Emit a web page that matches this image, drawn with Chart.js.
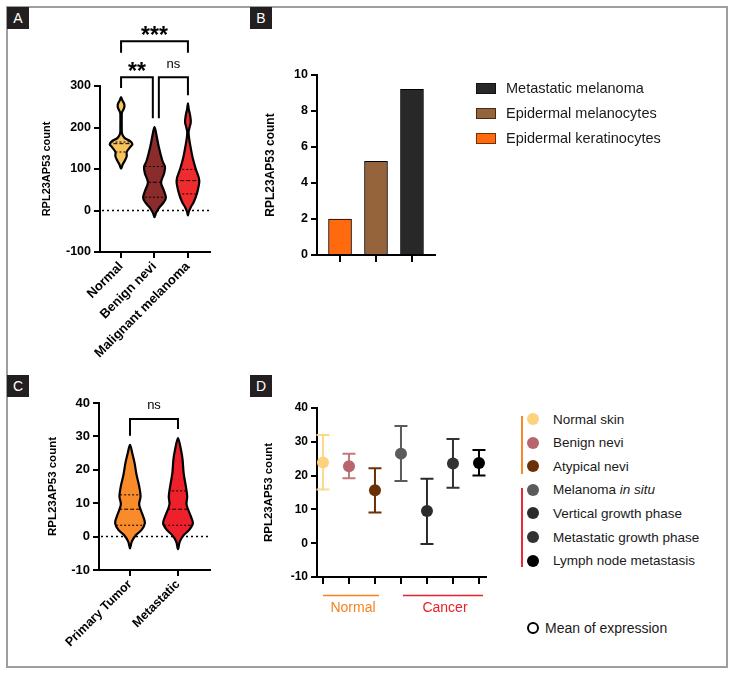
<!DOCTYPE html>
<html>
<head>
<meta charset="utf-8">
<script src="https://cdn.jsdelivr.net/npm/chart.js@4.4.1/dist/chart.umd.min.js"></script>
<style>
  body { margin: 0; background: #fff; font-family: "Liberation Sans", Arial, sans-serif; }
  #page { position: relative; width: 735px; height: 675px; overflow: hidden; }
  #frame { position: absolute; left: 6px; top: 6px; width: 718px; height: 658px; border: 2px solid #9e9e9e; }
  canvas { position: absolute; }
  .tag { position: absolute; width: 22px; height: 22px; background: #231f20; color: #fff; font-size: 14px; line-height: 22px; text-align: center; z-index: 3; }
  .row { position: absolute; height: 20px; display: flex; align-items: center; white-space: nowrap; color: #1a1a1a; z-index: 3; }
  .box { width: 20px; height: 11px; margin-right: 10px; box-sizing: border-box; border: 1px solid rgba(0,0,0,0.55); }
  .dot { width: 12px; height: 12px; border-radius: 50%; margin-right: 14px; box-sizing: border-box; }
  .vline { position: absolute; width: 2px; z-index: 3; }
</style>
</head>
<body>
<div id="page">
  <div id="frame"></div>
  <canvas id="chartA" width="245" height="370" style="left:0;top:0"></canvas>
  <canvas id="chartB" width="240" height="300" style="left:245px;top:0"></canvas>
  <canvas id="chartC" width="245" height="330" style="left:0;top:340px"></canvas>
  <canvas id="chartD" width="260" height="300" style="left:245px;top:340px"></canvas>
  <div class="tag" style="left:7px;top:7px">A</div>
  <div class="tag" style="left:250px;top:7px">B</div>
  <div class="tag" style="left:7px;top:375px">C</div>
  <div class="tag" style="left:250px;top:375px">D</div>
  <div id="legendB"></div>
  <div id="legendD"></div>
</div>
<script>
// ---- Panel A: violin plots (value, relative width)
const groupsA = ['Normal', 'Benign nevi', 'Malignant melanoma'];
const colorsA = ['#f7c35c', '#8c2b2c', '#ef2b2e'];
const violinNormal = [[273, 0], [265, 0.12], [258, 0.26], [251, 0.3], [244, 0.22], [236, 0.08], [225, 0.06], [205, 0.06], [186, 0.08], [175, 0.3], [167, 0.8], [160, 1], [152, 0.78], [141, 0.5], [131, 0.5], [121, 0.35], [111, 0.14], [101, 0]];
const violinBenign = [[201, 0], [185, 0.15], [153, 0.38], [121, 0.68], [105, 0.92], [90, 0.85], [68, 0.58], [50, 0.8], [32, 1], [20, 0.82], [8, 0.45], [-5, 0.15], [-16, 0]];
const violinMalignant = [[258, 0], [245, 0.07], [228, 0.2], [213, 0.25], [200, 0.14], [189, 0.06], [175, 0.1], [161, 0.18], [129, 0.4], [99, 0.7], [72, 1], [40, 0.78], [20, 0.5], [8, 0.25], [-3, 0.08], [-12, 0]];
const quartilesA = [[141, 161, 165], [32, 68, 106], [40, 72, 99]];

// ---- Panel B: bar chart
const cellTypes = ['Epidermal keratinocytes', 'Epidermal melanocytes', 'Metastatic melanoma'];
const countsB = [2, 5.2, 9.2];
const colorsB = ['#ff6a0f', '#95643a', '#282828'];

// ---- Panel C: violin plots
const groupsC = ['Primary Tumor', 'Metastatic'];
const colorsC = ['#f98b2b', '#ee202b'];
const violinPrimary = [[27.5, 0], [25, 0.15], [22, 0.31], [18.5, 0.44], [15, 0.62], [12, 0.71], [9.5, 0.62], [6, 0.89], [4, 1], [2, 0.78], [0.5, 0.4], [-1.5, 0.12], [-3.5, 0]];
const violinMetastatic = [[29.5, 0], [26, 0.2], [23, 0.31], [19, 0.38], [15, 0.53], [12, 0.62], [9.5, 0.58], [6, 0.87], [4, 1], [2, 0.75], [0.5, 0.4], [-1.5, 0.12], [-3.8, 0]];
const quartilesC = [[3.4, 8.2, 12.5], [3.4, 8.2, 13.7]];

// ---- Panel D: mean with error bars
const stagesD = ['Normal skin', 'Benign nevi', 'Atypical nevi', 'Melanoma in situ', 'Vertical growth phase', 'Metastatic growth phase', 'Lymph node metastasis'];
const meansD = [23.9, 22.8, 15.7, 26.5, 9.5, 23.6, 23.7];
const lowerD = [15.9, 19.2, 9.1, 18.4, -0.2, 16.4, 20.0];
const upperD = [32.0, 26.5, 22.2, 34.7, 19.1, 30.8, 27.6];
const colorsD = ['#fdd27e', '#b8666b', '#6b3006', '#5b5b5b', '#2b2b2b', '#323232', '#000000'];
const barColorsD = ['#fdd98c', '#c07a7c', '#6b3006', '#5b5b5b', '#2b2b2b', '#323232', '#000000'];
const stageGroups = [
  { label: 'Normal', from: 1, to: 3, color: '#f5821f' },
  { label: 'Cancer', from: 4, to: 7, color: '#e8202a' }
];

Chart.defaults.font.family = '"Liberation Sans", Arial, sans-serif';
Chart.defaults.color = '#000';

const tickGrid = len => ({ display: true, drawOnChartArea: false, drawTicks: true, tickLength: len, color: '#000', lineWidth: 2, offset: false });
const axisBorder = { display: true, color: '#000', width: 2 };

function yAxis(min, max, step, width, titlePad, fontSize, titleSize) {
  return {
    type: 'linear', min: min, max: max,
    ticks: { stepSize: step, font: { size: fontSize, weight: 'bold' }, color: '#000', padding: 3 },
    grid: tickGrid(6),
    border: axisBorder,
    title: { display: true, text: 'RPL23AP53 count', color: '#000', font: { size: titleSize, weight: 'bold' }, padding: { top: titlePad, bottom: 0 } },
    afterFit: s => { s.width = width; }
  };
}

function xAxis(labels, min, max, height, fontSize, rotate, tickLen, showLabels) {
  return {
    type: 'linear', min: min, max: max, offset: false,
    afterBuildTicks: s => { s.ticks = labels.map((_, i) => ({ value: i + 1 })); },
    ticks: {
      autoSkip: false, minRotation: rotate, maxRotation: rotate, padding: 1,
      font: { size: fontSize, weight: 'bold' }, color: '#000',
      callback: v => showLabels ? labels[v - 1] : ''
    },
    grid: tickGrid(tickLen),
    border: axisBorder,
    afterFit: s => { s.height = height; }
  };
}

function smoothPath(pts) {
  const p = new Path2D();
  const n = pts.length;
  p.moveTo(pts[0][0], pts[0][1]);
  for (let i = 0; i < n; i++) {
    const p0 = pts[(i - 1 + n) % n], p1 = pts[i], p2 = pts[(i + 1) % n], p3 = pts[(i + 2) % n];
    p.bezierCurveTo(p1[0] + (p2[0] - p0[0]) / 6, p1[1] + (p2[1] - p0[1]) / 6,
                    p2[0] - (p3[0] - p1[0]) / 6, p2[1] - (p3[1] - p1[1]) / 6, p2[0], p2[1]);
  }
  p.closePath();
  return p;
}

// draws the violins, the dotted zero line and the significance brackets
function violinPlugin(shapes, quartiles, colors, half, brackets) {
  return {
    id: 'violins',
    beforeDatasetsDraw(chart) {
      const { ctx, chartArea, scales: { x, y } } = chart;
      ctx.save();
      ctx.strokeStyle = '#000';
      ctx.lineWidth = 1.5;
      ctx.setLineDash([2, 3]);
      const y0 = y.getPixelForValue(0);
      ctx.beginPath();
      ctx.moveTo(chartArea.left + 2, y0);
      ctx.lineTo(chartArea.right, y0);
      ctx.stroke();
      ctx.restore();

      shapes.forEach((profile, i) => {
        const c = i + 1;
        const right = profile.map(([v, d]) => [x.getPixelForValue(c + d * half), y.getPixelForValue(v)]);
        const left = profile.slice(1, -1).reverse().map(([v, d]) => [x.getPixelForValue(c - d * half), y.getPixelForValue(v)]);
        const path = smoothPath(right.concat(left));
        ctx.save();
        ctx.fillStyle = colors[i];
        ctx.fill(path);
        ctx.save();
        ctx.clip(path);
        ctx.strokeStyle = '#000';
        ctx.lineWidth = 1;
        quartiles[i].forEach((q, k) => {
          ctx.setLineDash(k === 1 ? [4, 2] : [2, 2]);
          const yy = y.getPixelForValue(q);
          ctx.beginPath();
          ctx.moveTo(x.getPixelForValue(c - half * 1.2), yy);
          ctx.lineTo(x.getPixelForValue(c + half * 1.2), yy);
          ctx.stroke();
        });
        ctx.restore();
        ctx.lineWidth = 2.2;
        ctx.strokeStyle = '#000';
        ctx.lineJoin = 'round';
        ctx.stroke(path);
        ctx.restore();
      });
    },
    afterDraw(chart) {
      const { ctx, scales: { x, y } } = chart;
      ctx.save();
      ctx.strokeStyle = '#000';
      ctx.fillStyle = '#000';
      ctx.lineWidth = 2;
      ctx.lineJoin = 'miter';
      ctx.textAlign = 'center';
      ctx.textBaseline = 'alphabetic';
      brackets.forEach(b => {
        const x1 = x.getPixelForValue(b.from), x2 = x.getPixelForValue(b.to);
        const yt = y.getPixelForValue(b.top);
        ctx.beginPath();
        ctx.moveTo(x1, y.getPixelForValue(b.leftEnd));
        ctx.lineTo(x1, yt);
        ctx.lineTo(x2, yt);
        ctx.lineTo(x2, y.getPixelForValue(b.rightEnd));
        ctx.stroke();
        ctx.font = b.font;
        ctx.fillText(b.label, (x1 + x2) / 2, y.getPixelForValue(b.textAt));
      });
      ctx.restore();
    }
  };
}

const baseOptions = (padding, scales) => ({
  responsive: false,
  animation: false,
  events: [],
  layout: { padding: padding, autoPadding: false },
  plugins: { legend: { display: false }, tooltip: { enabled: false } },
  scales: scales
});

// ---- A
new Chart(document.getElementById('chartA'), {
  type: 'scatter',
  data: { datasets: [{ data: [] }] },
  options: baseOptions({ left: 30, right: 35, top: 86, bottom: 0 }, {
    x: xAxis(groupsA, 0.37, 3.66, 118, 13, 45, 6, true),
    y: yAxis(-100, 300, 100, 70, 10.4, 12.5, 11)
  }),
  plugins: [violinPlugin([violinNormal, violinBenign, violinMalignant], quartilesA, colorsA, 0.34, [
    { from: 1, to: 3, top: 408, leftEnd: 380, rightEnd: 380, label: '***', textAt: 403, font: 'bold 23px "Liberation Sans", Arial' },
    { from: 1, to: 1.95, top: 321, leftEnd: 295, rightEnd: 222, label: '**', textAt: 316, font: 'bold 23px "Liberation Sans", Arial' },
    { from: 2.13, to: 3, top: 321, leftEnd: 222, rightEnd: 278, label: 'ns', textAt: 344, font: '13px "Liberation Sans", Arial' }
  ])]
});

// ---- B
new Chart(document.getElementById('chartB'), {
  type: 'bar',
  data: {
    datasets: [{
      data: countsB.map((v, i) => ({ x: i + 1, y: v })),
      backgroundColor: colorsB,
      borderColor: '#000',
      borderWidth: 1,
      barThickness: 23
    }]
  },
  options: baseOptions({ left: 10, right: 50, top: 75, bottom: 0 }, {
    x: xAxis(cellTypes, 0.36, 3.64, 45, 12, 0, 7, false),
    y: yAxis(0, 10, 2, 62, 8.8, 12.5, 12)
  })
});

// ---- C
new Chart(document.getElementById('chartC'), {
  type: 'scatter',
  data: { datasets: [{ data: [] }] },
  options: baseOptions({ left: 30, right: 35, top: 63, bottom: 0 }, {
    x: xAxis(groupsC, 0.354, 2.667, 100, 12.5, 45, 6, true),
    y: yAxis(-10, 40, 10, 69, 16.2, 13, 11.5)
  }),
  plugins: [violinPlugin([violinPrimary, violinMetastatic], quartilesC, colorsC, 0.31, [
    { from: 1, to: 2, top: 35.2, leftEnd: 30.2, rightEnd: 32.2, label: 'ns', textAt: 38.1, font: '13px "Liberation Sans", Arial' }
  ])]
});

// ---- D
const errorBarPlugin = {
  id: 'errorBars',
  beforeDatasetsDraw(chart) {
    const { ctx, scales: { x, y } } = chart;
    ctx.save();
    ctx.lineWidth = 2;
    meansD.forEach((m, i) => {
      const px = x.getPixelForValue(i + 1);
      const lo = y.getPixelForValue(lowerD[i]), hi = y.getPixelForValue(upperD[i]);
      ctx.strokeStyle = barColorsD[i];
      ctx.beginPath();
      ctx.moveTo(px, lo); ctx.lineTo(px, hi);
      ctx.moveTo(px - 6.5, lo); ctx.lineTo(px + 6.5, lo);
      ctx.moveTo(px - 6.5, hi); ctx.lineTo(px + 6.5, hi);
      ctx.stroke();
    });
    ctx.restore();
  },
  afterDraw(chart) {
    const { ctx, chartArea, scales: { x } } = chart;
    ctx.save();
    ctx.font = '14px "Liberation Sans", Arial';
    ctx.textAlign = 'center';
    ctx.textBaseline = 'middle';
    stageGroups.forEach(g => {
      const x1 = x.getPixelForValue(g.from) + (g.from > 1 ? 2 : 0), x2 = x.getPixelForValue(g.to) + 4;
      ctx.strokeStyle = g.color;
      ctx.fillStyle = g.color;
      ctx.lineWidth = 1.5;
      ctx.beginPath();
      ctx.moveTo(x1, chartArea.bottom + 18.5);
      ctx.lineTo(x2, chartArea.bottom + 18.5);
      ctx.stroke();
      ctx.fillText(g.label, (x1 + x2) / 2 + 2, chartArea.bottom + 31);
    });
    ctx.restore();
  }
};

new Chart(document.getElementById('chartD'), {
  type: 'scatter',
  data: {
    datasets: [{
      data: meansD.map((m, i) => ({ x: i + 1, y: m })),
      backgroundColor: colorsD,
      pointRadius: 6,
      borderWidth: 0
    }]
  },
  options: baseOptions({ left: 10, right: 19, top: 68, bottom: 0 }, {
    x: xAxis(stagesD, 0.77, 7.27, 63, 12, 0, 7, false),
    y: yAxis(-10, 40, 10, 62, 7.1, 12, 11.5)
  }),
  plugins: [errorBarPlugin]
});

// ---- HTML legends
const legendB = document.getElementById('legendB');
cellTypes.slice().reverse().forEach((name, k) => {
  const i = cellTypes.length - 1 - k;
  const row = document.createElement('div');
  row.className = 'row';
  row.style.left = '476px';
  row.style.top = (78 + k * 25) + 'px';
  row.style.fontSize = '14.5px';
  const box = document.createElement('span');
  box.className = 'box';
  box.style.background = colorsB[i];
  const label = document.createElement('span');
  label.textContent = name;
  row.appendChild(box);
  row.appendChild(label);
  legendB.appendChild(row);
});

const legendD = document.getElementById('legendD');
stagesD.forEach((name, i) => {
  const row = document.createElement('div');
  row.className = 'row';
  row.style.left = '527px';
  row.style.top = (409 + i * 23.6) + 'px';
  row.style.fontSize = '13.5px';
  const dot = document.createElement('span');
  dot.className = 'dot';
  dot.style.background = colorsD[i];
  const label = document.createElement('span');
  const parts = name.split(' in situ');
  label.textContent = parts[0];
  if (parts.length > 1) {
    label.appendChild(document.createTextNode(' '));
    const it = document.createElement('i');
    it.textContent = 'in situ';
    label.appendChild(it);
  }
  row.appendChild(dot);
  row.appendChild(label);
  legendD.appendChild(row);
});
[[521, 416, 474, '#f7892a'], [521, 488, 567, '#ec2a35']].forEach(([lx, t, b, col]) => {
  const v = document.createElement('div');
  v.className = 'vline';
  v.style.left = lx + 'px';
  v.style.top = t + 'px';
  v.style.height = (b - t) + 'px';
  v.style.background = col;
  legendD.appendChild(v);
});
const meanRow = document.createElement('div');
meanRow.className = 'row';
meanRow.style.left = '527px';
meanRow.style.top = '618px';
meanRow.style.fontSize = '14px';
meanRow.innerHTML = '<span class="dot" style="border:2.5px solid #000;margin-right:6px"></span><span>Mean of expression</span>';
legendD.appendChild(meanRow);
</script>
</body>
</html>
